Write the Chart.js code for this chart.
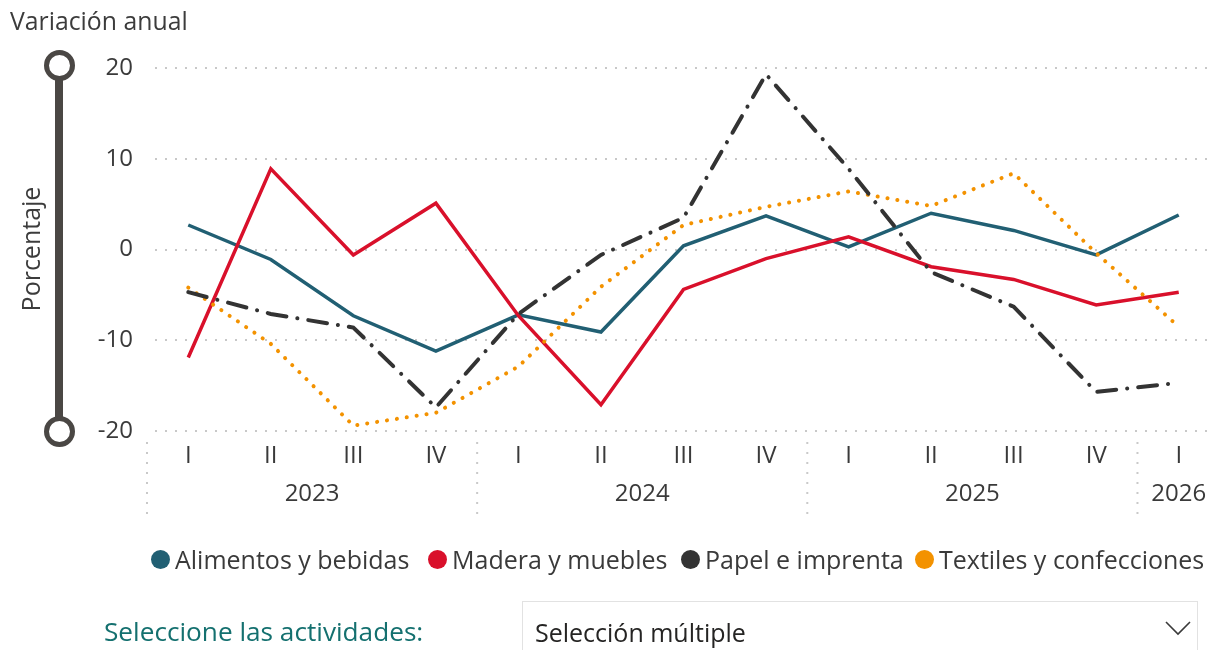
<!DOCTYPE html>
<html>
<head>
<meta charset="utf-8">
<script src="https://cdn.jsdelivr.net/npm/chart.js@4.4.1/dist/chart.umd.min.js"></script>
<style>
  html, body { margin:0; padding:0; background:#fff; width:1212px; height:650px; overflow:hidden; }
  body { position:relative; font-family:'Open Sans', 'Noto Sans', sans-serif; color:#3a3a3a; }
  #wrap { position:absolute; left:0; top:0; width:1220px; height:650px; }
  .abs { position:absolute; white-space:nowrap; }
  #title { left:10px; top:4px; font-size:24.8px; line-height:32px; color:#3c3c3c; }
  #ylab { left:30px; top:249px; font-size:25px; line-height:30px; transform:translate(-50%,-50%) rotate(-90deg); color:#3c3c3c; }
  .sl-bar { position:absolute; left:55px; top:72px; width:8px; height:352px; background:#4a4744; }
  .sl-knob { position:absolute; width:21px; height:21px; border:5px solid #4a4744; border-radius:50%; background:#fff; }
  #legend .item { position:absolute; top:544px; height:30px; display:flex; align-items:center; font-size:25px; color:#3a3a3a; }
  #legend .dot { width:19px; height:19px; border-radius:50%; margin-right:5px; flex:none; }
  #sel-label { left:104px; top:614px; font-size:26.2px; line-height:34px; color:#14706f; }
  #dropdown { position:absolute; left:522px; top:601px; width:676px; height:70px; border:1.5px solid #e2e2e2; box-sizing:border-box; }
  #dd-text { left:535px; top:615px; font-size:25px; line-height:34px; color:#252423; }
</style>
</head>
<body>
<div id="wrap"><canvas id="c" width="1220" height="650"></canvas></div>

<div id="title" class="abs">Variación anual</div>
<div class="sl-bar"></div>
<div class="sl-knob" style="left:44px; top:50px;"></div>
<div class="sl-knob" style="left:44px; top:416px;"></div>
<div id="ylab" class="abs">Porcentaje</div>

<div id="legend"></div>

<div id="sel-label" class="abs">Seleccione las actividades:</div>
<div id="dropdown"></div>
<div id="dd-text" class="abs">Selección múltiple</div>
<svg class="abs" style="left:1160px; top:615px;" width="36" height="26">
  <polyline points="6,7 18,19 30,7" fill="none" stroke="#3a3a3a" stroke-width="1.6"/>
</svg>

<script>
// ---- data ----
const quarters = ['I','II','III','IV','I','II','III','IV','I','II','III','IV','I'];
const years = ['2023','2024','2025','2026'];
const yearQuarterCounts = [4, 4, 4, 1];

const seriesNames = ['Alimentos y bebidas','Madera y muebles','Papel e imprenta','Textiles y confecciones'];
const alimentos = [2.7, -1.1, -7.3, -11.2, -7.2, -9.1, 0.4, 3.7, 0.3, 4.0, 2.1, -0.6, 3.8];
const madera    = [-11.9, 8.9, -0.6, 5.1, -7.3, -17.1, -4.4, -1.0, 1.4, -1.9, -3.3, -6.1, -4.7];
const papel     = [-4.7, -7.1, -8.6, -17.4, -7.1, -0.6, 3.5, 19.3, 8.9, -2.5, -6.3, -15.7, -14.7];
const textiles  = [-4.2, -10.4, -19.4, -18.0, -12.9, -4.1, 2.7, 4.7, 6.4, 4.8, 8.4, -0.4, -8.5];

const yMin = -20, yMax = 20, yStep = 10;

const seriesColors = ['#215f73', '#d9102b', '#333333', '#f39200'];

// legend (HTML)
const legendLefts = [151, 428, 681, 915];
const legend = document.getElementById('legend');
seriesNames.forEach((n, i) => {
  const it = document.createElement('div');
  it.className = 'item';
  it.style.left = legendLefts[i] + 'px';
  const d = document.createElement('span');
  d.className = 'dot';
  d.style.background = seriesColors[i];
  const t = document.createElement('span');
  t.textContent = n;
  it.appendChild(d); it.appendChild(t);
  legend.appendChild(it);
});

const yearsPlugin = {
  id: 'years',
  afterDraw(chart) {
    const x = chart.scales.x;
    const ctx = chart.ctx;
    const step = x.getPixelForValue(1) - x.getPixelForValue(0);
    ctx.save();
    ctx.font = '24px "Open Sans", sans-serif';
    ctx.fillStyle = '#3a3a3a';
    ctx.textAlign = 'center';
    ctx.textBaseline = 'alphabetic';
    let start = 0;
    years.forEach((y, k) => {
      const n = yearQuarterCounts[k];
      const left = x.getPixelForValue(start) - step / 2;
      const c = (x.getPixelForValue(start) + x.getPixelForValue(start + n - 1)) / 2;
      ctx.fillText(y, c, 501);
      ctx.save();
      ctx.strokeStyle = '#c9c9c9';
      ctx.lineWidth = 2;
      ctx.setLineDash([2, 8]);
      ctx.beginPath();
      ctx.moveTo(left, 442);
      ctx.lineTo(left, 518);
      ctx.stroke();
      ctx.restore();
      start += n;
    });
    ctx.restore();
  }
};

Chart.defaults.font.family = '"Open Sans", sans-serif';
Chart.defaults.color = '#3a3a3a';

new Chart(document.getElementById('c'), {
  type: 'line',
  data: {
    labels: quarters,
    datasets: [
      { label: seriesNames[0], data: alimentos, borderColor: seriesColors[0], borderWidth: 3.5, order: 3 },
      { label: seriesNames[1], data: madera, borderColor: seriesColors[1], borderWidth: 3.5, order: 2 },
      { label: seriesNames[2], data: papel, borderColor: seriesColors[2], borderWidth: 4,
        borderDash: [19, 11, 0.1, 11], borderCapStyle: 'round', order: 0 },
      { label: seriesNames[3], data: textiles, borderColor: seriesColors[3], borderWidth: 4,
        borderDash: [0.1, 9.9], borderCapStyle: 'round', order: 1 }
    ]
  },
  options: {
    responsive: false,
    animation: false,
    layout: { padding: { top: 68, left: 0, right: 0, bottom: 0 } },
    elements: { point: { radius: 0 }, line: { tension: 0, fill: false } },
    plugins: { legend: { display: false }, tooltip: { enabled: false }, title: { display: false } },
    scales: {
      x: {
        type: 'category',
        offset: true,
        grid: { display: false, drawTicks: false },
        border: { display: false },
        ticks: { font: { size: 24 }, color: '#3a3a3a', padding: 11, autoSkip: false, maxRotation: 0 },
        afterFit(s) { s.height = 219; }
      },
      y: {
        min: yMin, max: yMax,
        grid: { color: '#c8c8c8', lineWidth: 2, drawTicks: false },
        border: { display: false, dash: [2, 8], dashOffset: 2 },
        ticks: { stepSize: yStep, font: { size: 24 }, color: '#3a3a3a', padding: 14 },
        afterFit(s) { s.width = 147; }
      }
    }
  },
  plugins: [yearsPlugin]
});
</script>
</body>
</html>
